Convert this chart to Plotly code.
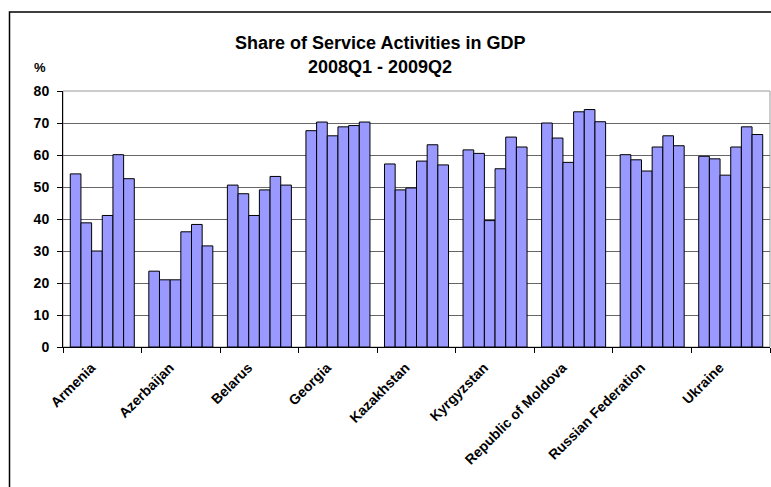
import plotly.graph_objects as go

countries = ["Armenia", "Azerbaijan", "Belarus", "Georgia", "Kazakhstan",
             "Kyrgyzstan", "Republic of Moldova", "Russian Federation", "Ukraine"]
quarters = ["2008Q1", "2008Q2", "2008Q3", "2008Q4", "2009Q1", "2009Q2"]
# values per country, 6 quarters each
armenia = [54.1, 38.8, 30.0, 41.1, 60.1, 52.6]
azerbaijan = [23.7, 21.0, 21.0, 36.0, 38.3, 31.6]
belarus = [50.6, 47.9, 41.1, 49.1, 53.3, 50.6]
georgia = [67.6, 70.3, 66.0, 68.8, 69.2, 70.3]
kazakhstan = [57.2, 49.1, 49.7, 58.1, 63.2, 56.9]
kyrgyzstan = [61.6, 60.5, 39.5, 55.7, 65.6, 62.5]
moldova = [70.0, 65.3, 57.7, 73.5, 74.2, 70.4]
russia = [60.1, 58.5, 55.0, 62.5, 66.0, 62.9]
ukraine = [59.6, 58.8, 53.7, 62.5, 68.8, 66.4]
by_country = [armenia, azerbaijan, belarus, georgia, kazakhstan,
              kyrgyzstan, moldova, russia, ukraine]

W, H = 771, 487
L, R, T, B = 63, 1, 91, 140
pw, ph = W - L - R, H - T - B

def px_x(p):
    return (p - L) / pw

def px_y(p):
    return (H - B - p) / ph

fig = go.Figure()
for qi, q in enumerate(quarters):
    fig.add_trace(go.Bar(
        x=countries, y=[c[qi] for c in by_country], name=q,
        marker=dict(color="#9999FF", line=dict(color="#000000", width=1)),
        showlegend=False))

font_family = "Arial, Liberation Sans, sans-serif"
fig.update_layout(
    width=W, height=H,
    margin=dict(l=L, r=R, t=T, b=B),
    paper_bgcolor="white", plot_bgcolor="white",
    barmode="group", bargap=0.185, bargroupgap=0,
    font=dict(family=font_family, color="black"),
    xaxis=dict(
        type="category", tickson="boundaries", ticks="outside", ticklen=5,
        tickcolor="black", showline=True, linecolor="black", linewidth=1,
        tickangle=-45, tickfont=dict(size=14, family=font_family, weight="bold"),
        ticklabelstandoff=6, ticklabelshift=-11,
        showgrid=False),
    yaxis=dict(
        range=[0, 80], dtick=10, ticks="outside", ticklen=5, tickcolor="black",
        showline=True, linecolor="black", linewidth=1,
        showgrid=True, gridcolor="#666666", gridwidth=1,
        tickfont=dict(size=14, family=font_family, weight="bold"),
        ticklabelstandoff=5,
        zeroline=False),
    shapes=[
        dict(type="rect", xref="paper", yref="paper", x0=0, x1=1, y0=0, y1=1,
             line=dict(color="#999999", width=1), layer="below"),
        dict(type="rect", xref="paper", yref="paper",
             x0=px_x(9.5), x1=px_x(780), y0=px_y(500), y1=px_y(12),
             line=dict(color="black", width=1.5), layer="above"),
    ],
    annotations=[
        dict(text="<b>Share of Service Activities in GDP</b>", xref="paper", yref="paper",
             x=px_x(380), y=px_y(43), showarrow=False, xanchor="center", yanchor="middle",
             font=dict(size=18, family=font_family)),
        dict(text="<b>2008Q1 - 2009Q2</b>", xref="paper", yref="paper",
             x=px_x(380), y=px_y(67), showarrow=False, xanchor="center", yanchor="middle",
             font=dict(size=18, family=font_family)),
        dict(text="<b>%</b>", xref="paper", yref="paper",
             x=px_x(40), y=px_y(67), showarrow=False, xanchor="center", yanchor="middle",
             font=dict(size=13, family=font_family)),
    ],
)

fig.write_html("out.html", post_script="document.body.style.margin='0';",
               config={"displayModeBar": False})
